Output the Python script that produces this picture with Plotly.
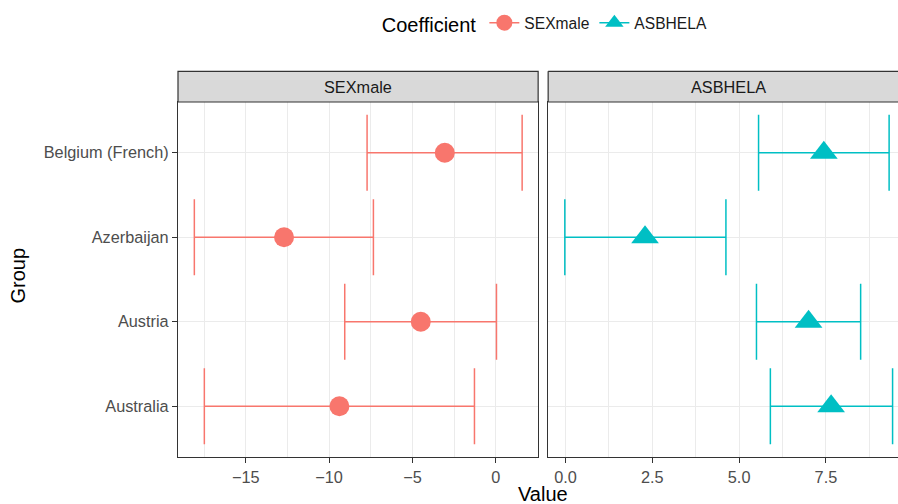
import plotly.graph_objects as go

# Country groups, bottom to top
groups = ["Australia", "Austria", "Azerbaijan", "Belgium (French)"]

# SEXmale coefficient: estimate with lower/upper interval bounds
sex_est = [-9.38, -4.50, -12.70, -3.06]
sex_lo = [-17.48, -9.06, -18.08, -7.72]
sex_hi = [-1.28, 0.04, -7.34, 1.58]

# ASBHELA coefficient: estimate with lower/upper interval bounds
hel_est = [7.65, 7.00, 2.29, 7.44]
hel_lo = [5.90, 5.50, -0.02, 5.56]
hel_hi = [9.42, 8.50, 4.62, 9.32]

panel_titles = ["SEXmale", "ASBHELA"]
left_ticks = [-15, -10, -5, 0]
left_minor = [-17.5, -12.5, -7.5, -2.5]
right_ticks = [0.0, 2.5, 5.0, 7.5]
right_tick_text = ["0.0", "2.5", "5.0", "7.5"]
right_minor = [1.25, 3.75, 6.25, 8.75]

RED = "#F8766D"
CYAN = "#00BFC4"
FONT = "Liberation Sans, Arial, sans-serif"
W, H = 898, 504
ML, MR, MT, MB = 178.3, 0, 102, 46.7
PW = W - ML - MR
PH = H - MT - MB
TICK_SIZE = 16.3
LEGEND_SIZE = 15.6
TITLE_SIZE = 20


def px_x(px):
    return (px - ML) / PW


def px_y(py):
    return (H - MB - py) / PH


def err_plus(est, hi):
    return [h - e for e, h in zip(est, hi)]


def err_minus(est, lo):
    return [e - l for e, l in zip(est, lo)]


fig = go.Figure()

fig.add_trace(go.Scatter(
    x=sex_est, y=groups, xaxis="x", yaxis="y", mode="markers",
    marker=dict(symbol="circle", size=20, color=RED),
    error_x=dict(type="data", symmetric=False,
                 array=err_plus(sex_est, sex_hi),
                 arrayminus=err_minus(sex_est, sex_lo),
                 color=RED, thickness=1.5, width=38),
    showlegend=False, hoverinfo="x+y",
))
fig.add_trace(go.Scatter(
    x=hel_est, y=groups, xaxis="x2", yaxis="y2", mode="markers",
    marker=dict(symbol="triangle-up", size=24, color=CYAN),
    error_x=dict(type="data", symmetric=False,
                 array=err_plus(hel_est, hel_hi),
                 arrayminus=err_minus(hel_est, hel_lo),
                 color=CYAN, thickness=1.5, width=38),
    showlegend=False, hoverinfo="x+y",
))

# Legend keys (marker with a line through it)
fig.add_trace(go.Scatter(
    x=[None], y=[None], mode="lines+markers", name="SEXmale",
    marker=dict(symbol="circle", size=20, color=RED),
    line=dict(color=RED, width=1.5), xaxis="x", yaxis="y",
))
fig.add_trace(go.Scatter(
    x=[None], y=[None], mode="lines+markers", name="ASBHELA",
    marker=dict(symbol="triangle-up", size=26, color=CYAN),
    line=dict(color=CYAN, width=1.5), xaxis="x", yaxis="y",
))

d1_end = px_x(538.3)
d2_start = px_x(548.3)

grid = "#EBEBEB"
border = "#333333"
tickfont = dict(family=FONT, size=TICK_SIZE, color="#4D4D4D")

common_x = dict(
    showgrid=True, gridcolor=grid, gridwidth=1.1, zeroline=False,
    ticks="outside", ticklen=5, tickcolor=border, tickwidth=1.1,
    tickfont=tickfont, showline=True, linecolor=border, linewidth=1.2,
)

fig.update_layout(
    width=W, height=H,
    margin=dict(l=ML, r=MR, t=MT, b=MB),
    paper_bgcolor="white", plot_bgcolor="white",
    font=dict(family=FONT, color="black"),
    xaxis=dict(domain=[0, d1_end], range=[-19.06, 2.54],
               tickmode="array", tickvals=left_ticks,
               ticktext=["\u221215", "\u221210", "\u22125", "0"],
               minor=dict(tickmode="array", tickvals=left_minor,
                          showgrid=True, gridcolor=grid, gridwidth=0.6,
                          ticks=""),
               anchor="y", mirror=True, **common_x),
    xaxis2=dict(domain=[d2_start, 1.0], range=[-0.50, 9.576],
                tickmode="array", tickvals=right_ticks,
                ticktext=right_tick_text,
                minor=dict(tickmode="array", tickvals=right_minor,
                           showgrid=True, gridcolor=grid, gridwidth=0.6,
                           ticks=""),
                anchor="y2", mirror=True, **common_x),
    yaxis=dict(domain=[0, 1], type="category", categoryorder="array",
               categoryarray=groups, range=[-0.6, 3.6],
               showgrid=True, gridcolor=grid, gridwidth=1.1, zeroline=False,
               ticks="outside", ticklen=5, tickcolor=border, tickwidth=1.1,
               tickfont=tickfont, showline=True, linecolor=border,
               linewidth=1.2, mirror=True, anchor="x"),
    yaxis2=dict(domain=[0, 1], type="category", categoryorder="array",
                categoryarray=groups, range=[-0.6, 3.6],
                showgrid=True, gridcolor=grid, gridwidth=1.1, zeroline=False,
                showticklabels=False, ticks="",
                showline=True, linecolor=border, linewidth=1.2,
                mirror=False, anchor="x2"),
    legend=dict(
        orientation="h", x=px_x(380), xanchor="left",
        y=1 + 78 / PH, yanchor="middle",
        title=dict(text="Coefficient", side="left",
                   font=dict(family=FONT, size=TITLE_SIZE, color="black")),
        font=dict(family=FONT, size=LEGEND_SIZE, color="#1A1A1A"),
        bgcolor="rgba(0,0,0,0)", itemsizing="trace",
    ),
    showlegend=True,
)

# Facet strips: grey boxes above each panel
strip_h = 30.7 / PH
st_top = 1 + strip_h
strip_line = dict(color=border, width=1.2)
shapes = [
    dict(type="rect", xref="paper", yref="paper", x0=0, x1=d1_end,
         y0=1, y1=st_top, fillcolor="#D9D9D9", line=strip_line,
         layer="above"),
    # right strip runs off the page edge: fill plus left/top/bottom edges
    dict(type="rect", xref="paper", yref="paper", x0=d2_start, x1=1.0,
         y0=1, y1=st_top, fillcolor="#D9D9D9", line=dict(width=0),
         layer="above"),
    dict(type="line", xref="paper", yref="paper", x0=d2_start, x1=1.0,
         y0=st_top, y1=st_top, line=strip_line, layer="above"),
    dict(type="line", xref="paper", yref="paper", x0=d2_start, x1=1.0,
         y0=1, y1=1, line=strip_line, layer="above"),
    dict(type="line", xref="paper", yref="paper", x0=d2_start, x1=d2_start,
         y0=1, y1=st_top, line=strip_line, layer="above"),
]
fig.update_layout(shapes=shapes)

annotations = [
    dict(text=panel_titles[0], xref="paper", yref="paper",
         x=d1_end / 2, y=1 + strip_h / 2, showarrow=False,
         xanchor="center", yanchor="middle",
         font=dict(family=FONT, size=TICK_SIZE, color="#1A1A1A")),
    dict(text=panel_titles[1], xref="paper", yref="paper",
         x=(d2_start + px_x(908)) / 2, y=1 + strip_h / 2, showarrow=False,
         xanchor="center", yanchor="middle",
         font=dict(family=FONT, size=TICK_SIZE, color="#1A1A1A")),
    dict(text="Value", xref="paper", yref="paper",
         x=px_x(543), y=px_y(494), showarrow=False,
         xanchor="center", yanchor="middle",
         font=dict(family=FONT, size=TITLE_SIZE, color="black")),
    dict(text="Group", xref="paper", yref="paper",
         x=px_x(18), y=px_y(276), showarrow=False, textangle=-90,
         xanchor="center", yanchor="middle",
         font=dict(family=FONT, size=TITLE_SIZE, color="black")),
]
fig.update_layout(annotations=annotations)

fig.write_html("out.html")
